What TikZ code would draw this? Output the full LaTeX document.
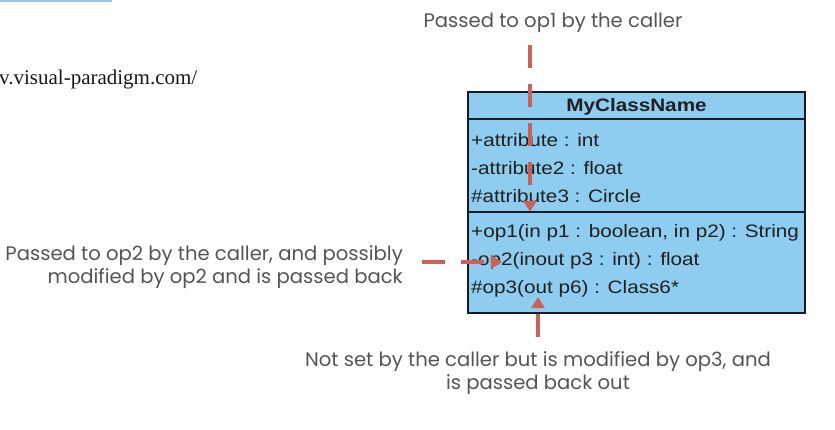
\documentclass[tikz,border=0pt]{standalone}
\usepackage{fontspec}
\setmainfont{Liberation Sans}
\newfontfamily\boxf[FakeStretch=1.15]{Liberation Sans}
\newfontfamily\gothic{Poppins}
\newfontfamily\timesf{Liberation Serif}
\usetikzlibrary{arrows.meta}
\definecolor{boxfill}{RGB}{142,205,240}
\definecolor{boxline}{RGB}{25,28,40}
\definecolor{arrowc}{RGB}{202,98,90}
\definecolor{labelc}{RGB}{85,85,85}
\definecolor{linkc}{RGB}{160,196,228}
\tikzset{
  part/.style={draw=boxline, fill=boxfill, line width=1.3pt, inner sep=0pt},
  member/.style={anchor=west, inner sep=0pt, font=\boxf\fontsize{18}{20}\selectfont, text=black!88},
  note/.style={inner sep=0pt, font=\gothic\fontsize{19.6}{23.5}\selectfont, text=labelc},
  flow/.style={draw=arrowc, line width=4.5pt, dash pattern=on 23pt off 16pt,
    -{Triangle[length=11pt,width=13pt]}},
}
\begin{document}
\begin{tikzpicture}[x=1pt,y=-1pt]
\useasboundingbox (0,0) rectangle (835,429);
\fill[white] (0,0) rectangle (835,429);
% top link underline
\fill[linkc] (0,0) rectangle (112,2);
\node[anchor=west, inner sep=0pt, font=\timesf\fontsize{21}{24}\selectfont, text=black!90] (url) at (-1,79) {v.visual-paradigm.com/};

% class
\node (hdr) at (636.5,105.5) [minimum width=337pt, minimum height=27pt, inner sep=0pt] {};
\node (attrs) at (636.5,165.5) [minimum width=337pt, minimum height=93pt, inner sep=0pt] {};
\node (ops) at (636.5,262.5) [minimum width=337pt, minimum height=101pt, inner sep=0pt] {};
\path[part] (468,92) rectangle (805,119);
\path[part] (468,119) rectangle (805,212);
\path[part] (468,212) rectangle (805,313);
\node[inner sep=0pt, font=\boxf\bfseries\fontsize{18}{20}\selectfont, text=black!88] (cname) at ([yshift=-1.5pt]hdr.center) {MyClassName};
\node[member] (a1) at (471,140) {+attribute : int};
\node[member] (a2) at (471,168) {-attribute2 : float};
\node[member] (a3) at (471,196) {\#attribute3 : Circle};
\node[member] (o1) at (471,233) {+op1(in p1 : boolean, in p2) : String};
\node[member] (o2) at (471,261) {-op2(inout p3 : int) : float};
\node[member] (o3) at (471,289) {\#op3(out p6) : Class6*};

% labels
\node[note] (n1) at (553,23) {Passed to op1 by the caller};
\node[note, align=right, anchor=east] (n2) at (403,267) {Passed to op2 by the caller, and possibly\\modified by op2 and is passed back};
\node[note, align=center] (n3) at (538,373) {Not set by the caller but is modified by op3, and\\is passed back out};

% connectors
\coordinate (s1) at (530,45);
\coordinate (s2) at (422,262);
\coordinate (s3) at (538,337);
\coordinate (e2) at (502,262);
\coordinate (e3) at (538,297);
\draw[flow] (s1) -- (s1 |- ops.north);
\draw[flow] (s2) -- (e2);
\draw[flow] (s3) -- (e3);
\end{tikzpicture}
\end{document}
